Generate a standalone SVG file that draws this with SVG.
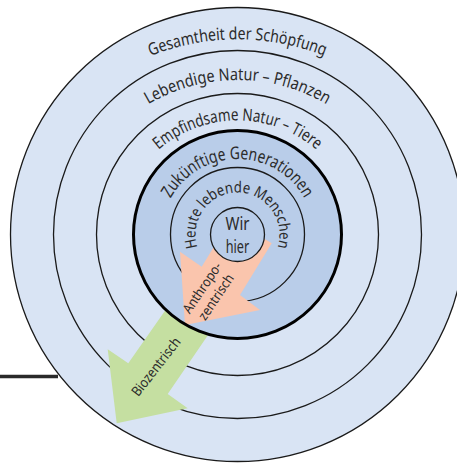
<svg xmlns="http://www.w3.org/2000/svg" width="457" height="464" viewBox="0 0 457 464">
<style>
  .ring { fill: none; stroke: #1a1a1a; stroke-width: 1.3; }
  .lbl { font-family: 'Noto Sans', 'Open Sans', sans-serif; fill: #2b2b2b; }
  .big { font-size: 17px; }
</style>
<defs>
  <path id="p1" d="M 34,156.8 A 235,235 0 0 1 441,156.8"/>
  <path id="p2" d="M 85.1,168 A 176,176 0 0 1 389.9,168"/>
  <path id="p3" d="M 132.7,181 A 121,121 0 0 1 342.3,181"/>
  <path id="p4" d="M 199.25,301.75 A 76.5,76.5 0 1 1 275.75,301.75"/>
  <path id="p5" d="M 230.2,275.9 A 42,42 0 1 1 244.8,275.9"/>
</defs>
<rect width="457" height="464" fill="#ffffff"/>
<g id="line-left">
  <line x1="0" y1="376.5" x2="58" y2="376.5" stroke="#2a2a2a" stroke-width="3.5"/>
</g>
<g id="schoepfung">
  <circle cx="237.5" cy="234.5" r="227" class="ring" style="fill:#d9e4f4"/>
</g>
<g id="pflanzen">
  <circle cx="237.5" cy="234.5" r="184" class="ring"/>
</g>
<g id="tiere">
  <circle cx="237.5" cy="234.5" r="141" class="ring"/>
</g>
<g id="connectors">
  <g id="biozentrisch">
    <polygon points="174.1,297.8 128.3,363.3 107.7,349.3 116.7,423.3 187.7,408.3 167.7,394 218.5,319.7" fill="#c5dfa1"/>
  </g>
</g>
<g id="generationen">
  <circle cx="237.5" cy="234.5" r="104" fill="#b9cde9"/>
</g>
<g id="menschen">
  <circle cx="237.5" cy="234.5" r="67" class="ring"/>
</g>
<g id="anthropozentrisch">
  <polygon points="231.2,218.5 201.7,266.7 180,251.7 185,325 260,310 240,295 271.7,243.3" fill="#fac5ad"/>
</g>
<g id="generationen-rand">
  <circle cx="237.5" cy="234.5" r="104" fill="none" stroke="#000" stroke-width="3"/>
</g>
<g id="wir">
  <circle cx="237.5" cy="234.5" r="27" fill="#b9cde9" stroke="#1a1a1a" stroke-width="1.3"/>
  <text class="lbl" x="237.5" y="230" font-size="18" text-anchor="middle" textLength="24" lengthAdjust="spacingAndGlyphs">Wir</text>
  <text class="lbl" x="237.5" y="253.3" font-size="18" text-anchor="middle" textLength="23.5" lengthAdjust="spacingAndGlyphs">hier</text>
</g>
<g id="labels">
  <text class="lbl big"><textPath href="#p1" startOffset="50%" text-anchor="middle" textLength="178" lengthAdjust="spacingAndGlyphs">Gesamtheit der Schöpfung</textPath></text>
  <text class="lbl big"><textPath href="#p2" startOffset="50%" text-anchor="middle" textLength="187" lengthAdjust="spacingAndGlyphs">Lebendige Natur – Pflanzen</textPath></text>
  <text class="lbl big"><textPath href="#p3" startOffset="50%" text-anchor="middle" textLength="172" lengthAdjust="spacingAndGlyphs">Empfindsame Natur – Tiere</textPath></text>
  <text class="lbl" font-size="17.5"><textPath href="#p4" startOffset="50%" text-anchor="middle" textLength="163" lengthAdjust="spacingAndGlyphs">Zukünftige Generationen</textPath></text>
  <text class="lbl" font-size="15.5"><textPath href="#p5" startOffset="50%" text-anchor="middle" textLength="158" lengthAdjust="spacingAndGlyphs">Heute lebende Menschen</textPath></text>
  <g transform="translate(209.2,292.5) rotate(-56)">
    <text class="lbl" font-size="13.5" text-anchor="middle" y="-3.8" textLength="58" lengthAdjust="spacingAndGlyphs">Anthropo-</text>
    <text class="lbl" font-size="13.5" text-anchor="middle" y="12.8" textLength="52" lengthAdjust="spacingAndGlyphs">zentrisch</text>
  </g>
  <g transform="translate(155.8,366.7) rotate(-52)">
    <text class="lbl" font-size="14" text-anchor="middle" y="5" textLength="70" lengthAdjust="spacingAndGlyphs">Biozentrisch</text>
  </g>
</g>
</svg>
